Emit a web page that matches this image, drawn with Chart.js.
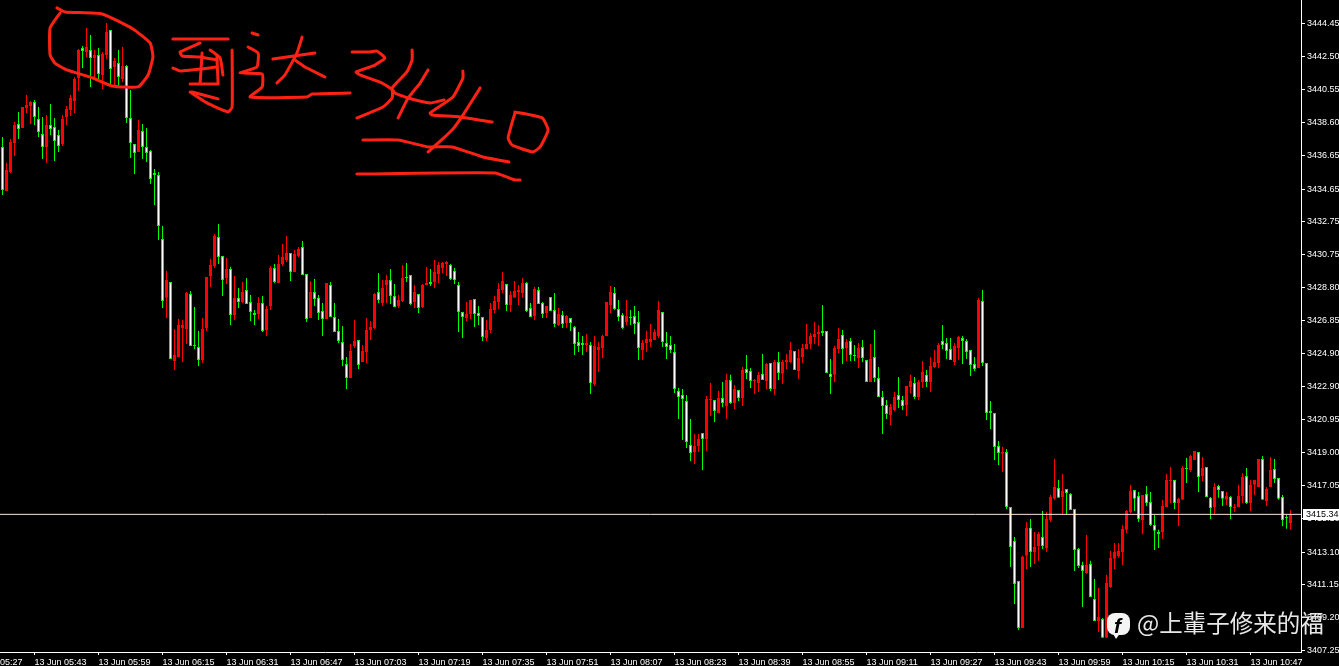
<!DOCTYPE html>
<html lang="zh">
<head>
    <meta charset="UTF-8">
    <title>XAUUSD M1</title>
    <script src="https://cdn.jsdelivr.net/npm/chart.js"></script>
    <style>
        html, body {
            margin: 0;
            background-color: #000000;
            overflow: hidden;
        }
        canvas {
            display: block;
        }
    </style>
</head>
<body>
    <canvas id="priceChart" width="1339" height="666"></canvas>
    <script>
        // one bar per minute, index 0 = 05:35
        const timeLabels = ['13 Jun 05:27', '13 Jun 05:43', '13 Jun 05:59', '13 Jun 06:15', '13 Jun 06:31', '13 Jun 06:47', '13 Jun 07:03', '13 Jun 07:19', '13 Jun 07:35', '13 Jun 07:51', '13 Jun 08:07', '13 Jun 08:23', '13 Jun 08:39', '13 Jun 08:55', '13 Jun 09:11', '13 Jun 09:27', '13 Jun 09:43', '13 Jun 09:59', '13 Jun 10:15', '13 Jun 10:31', '13 Jun 10:47'];
        const timeTickBars = [-8, 8, 24, 40, 56, 72, 88, 104, 120, 136, 152, 168, 184, 200, 216, 232, 248, 264, 280, 296, 312];
        const priceLabels = ['3444.45', '3442.50', '3440.55', '3438.60', '3436.65', '3434.65', '3432.75', '3430.75', '3428.80', '3426.85', '3424.90', '3422.90', '3420.95', '3419.00', '3417.05', '3415.10', '3413.10', '3411.15', '3409.20', '3407.25'];
        const currentPrice = 3415.34;

        const opens = [
            3437.14, 3434.53, 3435.66, 3437.38, 3438.51, 3438.27, 3439.46, 3439.58, 3439.82, 3438.81,
            3437.92, 3437.14, 3438.45, 3438.33, 3437.86, 3437.32, 3438.93, 3439.34, 3439.88, 3441.24,
            3443.02, 3442.78, 3442.90, 3442.43, 3442.61, 3441.42, 3442.61, 3444.09, 3441.89, 3442.13,
            3441.18, 3441.95, 3438.87, 3437.32, 3436.85, 3438.09, 3437.14, 3436.91, 3435.60, 3435.48,
            3431.69, 3428.19, 3429.13, 3424.44, 3424.68, 3426.40, 3426.34, 3428.42, 3425.39, 3425.27,
            3424.50, 3426.40, 3429.49, 3430.08, 3431.81, 3430.68, 3429.37, 3429.91, 3427.17, 3428.19,
            3427.95, 3428.66, 3427.95, 3427.29, 3427.23, 3427.89, 3426.28, 3427.71, 3429.96, 3429.07,
            3430.20, 3430.44, 3430.85, 3429.73, 3430.68, 3431.21, 3429.61, 3427.00, 3428.54, 3428.19,
            3427.41, 3426.94, 3428.96, 3427.06, 3426.22, 3425.57, 3424.27, 3423.44, 3425.33, 3425.69,
            3424.38, 3424.98, 3426.28, 3426.40, 3428.54, 3427.89, 3428.96, 3429.25, 3428.30, 3427.71,
            3428.01, 3429.43, 3429.55, 3427.95, 3428.42, 3427.65, 3428.96, 3429.13, 3429.13, 3429.61,
            3429.96, 3430.20, 3430.14, 3429.79, 3428.96, 3427.35, 3427.00, 3427.23, 3428.13, 3427.29,
            3427.06, 3425.81, 3426.28, 3427.47, 3427.95, 3428.66, 3429.01, 3427.77, 3428.19, 3428.54,
            3428.48, 3429.07, 3427.59, 3427.12, 3428.66, 3427.89, 3427.29, 3428.24, 3427.47, 3426.58,
            3427.17, 3426.70, 3427.00, 3426.46, 3425.57, 3425.51, 3425.39, 3425.39, 3423.08, 3425.10,
            3425.22, 3425.93, 3427.77, 3428.48, 3427.53, 3427.17, 3426.76, 3427.06, 3427.12, 3426.76,
            3425.10, 3425.51, 3425.57, 3425.69, 3425.93, 3427.35, 3425.51, 3425.39, 3424.98, 3422.66,
            3422.43, 3422.07, 3419.46, 3419.04, 3419.40, 3420.17, 3419.82, 3422.13, 3422.13, 3421.36,
            3422.25, 3421.77, 3423.32, 3421.95, 3422.72, 3422.25, 3423.97, 3423.85, 3423.26, 3423.14,
            3423.68, 3423.26, 3424.33, 3422.78, 3424.38, 3423.68, 3424.38, 3424.38, 3425.04, 3423.85,
            3424.68, 3425.16, 3425.45, 3425.87, 3426.05, 3426.22, 3426.22, 3423.68, 3423.62, 3425.16,
            3426.00, 3425.22, 3425.63, 3424.80, 3424.62, 3425.27, 3424.50, 3423.20, 3424.68, 3423.44,
            3422.31, 3421.83, 3421.24, 3421.54, 3422.43, 3422.13, 3421.83, 3422.90, 3423.14, 3422.31,
            3423.20, 3423.62, 3423.20, 3424.09, 3424.33, 3425.63, 3425.51, 3425.16, 3424.38, 3425.22,
            3425.81, 3425.63, 3425.10, 3424.27, 3424.03, 3428.01, 3424.33, 3421.48, 3421.36, 3419.40,
            3418.93, 3419.04, 3415.78, 3413.76, 3411.39, 3408.60, 3412.88, 3414.54, 3413.11, 3413.46,
            3414.00, 3413.35, 3415.01, 3416.26, 3416.91, 3416.37, 3416.85, 3416.55, 3415.66, 3413.29,
            3412.34, 3411.86, 3412.40, 3410.32, 3409.01, 3409.13, 3408.01, 3411.03, 3412.70, 3412.87,
            3413.11, 3414.42, 3415.48, 3416.79, 3416.43, 3415.01, 3416.55, 3416.08, 3414.71, 3414.30,
            3414.30, 3415.78, 3417.32, 3417.38, 3416.02, 3416.20, 3418.09, 3417.98, 3418.57, 3419.04,
            3417.62, 3418.15, 3416.32, 3415.78, 3417.03, 3416.73, 3416.20, 3416.37, 3415.72, 3415.78,
            3416.43, 3417.62, 3416.02, 3417.09, 3416.97, 3418.63, 3416.14, 3416.97, 3418.03, 3417.50,
            3416.37, 3415.19, 3414.83
        ];
        const highs = [
            3437.74, 3436.19, 3437.62, 3438.63, 3439.22, 3439.52, 3440.23, 3439.88, 3439.94, 3439.52,
            3438.93, 3439.04, 3439.70, 3438.87, 3438.15, 3439.04, 3439.58, 3440.23, 3441.30, 3442.96,
            3443.14, 3444.21, 3443.79, 3442.90, 3443.02, 3442.78, 3444.50, 3444.09, 3442.43, 3442.90,
            3443.08, 3442.01, 3440.53, 3437.32, 3438.75, 3438.51, 3438.27, 3436.97, 3435.84, 3435.66,
            3432.46, 3429.79, 3429.13, 3426.34, 3426.94, 3426.88, 3428.54, 3428.60, 3427.65, 3426.22,
            3427.00, 3429.43, 3430.50, 3431.98, 3432.58, 3430.68, 3430.56, 3430.03, 3429.49, 3428.78,
            3429.13, 3429.37, 3428.36, 3427.47, 3428.24, 3428.30, 3427.71, 3430.08, 3430.20, 3430.74,
            3431.39, 3431.87, 3430.85, 3431.03, 3431.21, 3431.57, 3429.61, 3429.19, 3429.31, 3428.36,
            3427.89, 3429.07, 3429.13, 3427.89, 3426.94, 3426.52, 3424.68, 3425.45, 3426.88, 3425.69,
            3425.39, 3427.00, 3426.82, 3428.48, 3429.67, 3429.25, 3429.55, 3429.91, 3429.01, 3428.36,
            3430.14, 3430.26, 3429.55, 3428.96, 3428.42, 3429.01, 3430.03, 3429.91, 3430.44, 3430.32,
            3430.32, 3430.38, 3430.20, 3429.96, 3429.13, 3427.35, 3427.95, 3428.07, 3428.13, 3427.71,
            3427.06, 3426.88, 3427.89, 3428.30, 3429.07, 3429.73, 3429.01, 3428.60, 3429.19, 3428.96,
            3429.37, 3429.13, 3427.89, 3428.84, 3428.84, 3427.95, 3427.71, 3428.24, 3428.48, 3427.59,
            3427.41, 3427.17, 3427.00, 3426.52, 3426.17, 3425.93, 3426.05, 3425.57, 3425.93, 3425.57,
            3425.99, 3427.95, 3428.90, 3428.84, 3428.07, 3427.29, 3428.07, 3427.47, 3427.71, 3427.41,
            3425.69, 3426.22, 3426.64, 3426.34, 3428.01, 3427.35, 3426.17, 3425.93, 3425.45, 3422.84,
            3422.78, 3422.43, 3421.00, 3420.11, 3420.11, 3420.17, 3422.37, 3423.14, 3422.13, 3422.66,
            3423.20, 3423.68, 3423.62, 3423.02, 3422.72, 3424.09, 3424.80, 3424.03, 3423.38, 3423.79,
            3424.86, 3424.33, 3424.33, 3424.50, 3424.98, 3424.50, 3424.86, 3425.57, 3425.04, 3425.16,
            3425.45, 3426.64, 3426.11, 3426.76, 3426.58, 3427.77, 3426.22, 3424.56, 3425.33, 3426.40,
            3426.28, 3425.75, 3425.81, 3425.39, 3425.51, 3425.69, 3424.50, 3425.45, 3426.28, 3424.09,
            3422.66, 3422.13, 3421.89, 3422.60, 3423.50, 3422.37, 3422.96, 3423.62, 3423.50, 3423.32,
            3424.44, 3423.91, 3424.68, 3425.10, 3425.51, 3426.58, 3425.81, 3425.81, 3425.51, 3425.93,
            3425.93, 3425.75, 3425.10, 3424.68, 3428.19, 3428.66, 3424.33, 3422.07, 3421.36, 3419.70,
            3419.34, 3419.22, 3415.78, 3414.00, 3411.39, 3412.88, 3414.89, 3415.07, 3414.30, 3414.30,
            3415.54, 3415.48, 3416.49, 3418.63, 3417.38, 3417.74, 3416.85, 3416.61, 3415.66, 3413.35,
            3412.52, 3414.12, 3412.58, 3411.51, 3410.97, 3409.19, 3411.74, 3413.17, 3413.64, 3413.64,
            3414.71, 3415.60, 3417.09, 3416.79, 3416.67, 3416.49, 3417.03, 3416.67, 3415.30, 3414.42,
            3416.20, 3417.74, 3418.15, 3417.38, 3416.32, 3418.21, 3418.69, 3418.87, 3419.10, 3419.04,
            3418.75, 3418.15, 3416.37, 3417.20, 3417.09, 3416.73, 3416.67, 3416.43, 3415.96, 3417.09,
            3417.80, 3418.09, 3417.38, 3417.38, 3418.63, 3418.81, 3416.97, 3418.75, 3418.63, 3417.50,
            3416.49, 3415.30, 3415.60
        ];
        const lows = [
            3434.30, 3434.53, 3435.60, 3436.61, 3437.62, 3438.27, 3439.16, 3438.51, 3438.45, 3437.74,
            3436.43, 3436.19, 3437.86, 3436.31, 3436.85, 3437.20, 3438.45, 3438.99, 3439.16, 3440.47,
            3441.83, 3442.49, 3440.71, 3441.12, 3441.00, 3440.59, 3442.37, 3440.83, 3440.77, 3440.71,
            3441.00, 3438.57, 3436.49, 3435.54, 3436.85, 3436.43, 3436.25, 3434.95, 3433.70, 3431.63,
            3427.59, 3427.00, 3424.56, 3423.91, 3424.68, 3424.38, 3425.45, 3425.33, 3425.16, 3424.14,
            3424.32, 3426.22, 3428.84, 3429.96, 3430.20, 3428.30, 3429.01, 3426.58, 3426.88, 3427.59,
            3427.89, 3427.83, 3426.82, 3426.58, 3426.94, 3426.16, 3425.93, 3427.47, 3429.07, 3429.07,
            3430.08, 3430.32, 3429.19, 3429.73, 3430.62, 3429.55, 3426.76, 3427.00, 3427.71, 3426.88,
            3425.93, 3426.94, 3427.06, 3426.17, 3425.51, 3424.14, 3422.78, 3423.44, 3425.22, 3423.97,
            3424.38, 3424.32, 3425.69, 3426.34, 3427.89, 3427.71, 3427.89, 3427.83, 3427.65, 3427.59,
            3427.95, 3429.13, 3427.77, 3427.59, 3427.29, 3427.59, 3428.96, 3428.90, 3428.78, 3429.07,
            3429.67, 3429.49, 3429.25, 3429.01, 3426.17, 3425.81, 3426.82, 3426.94, 3426.46, 3426.58,
            3425.63, 3425.63, 3426.11, 3427.29, 3427.53, 3428.48, 3427.41, 3427.35, 3428.19, 3427.77,
            3428.19, 3427.35, 3427.06, 3426.88, 3427.83, 3427.00, 3427.00, 3427.41, 3426.46, 3426.52,
            3426.40, 3426.40, 3426.22, 3424.80, 3424.98, 3424.80, 3424.98, 3422.49, 3422.96, 3423.79,
            3424.62, 3425.93, 3427.29, 3427.47, 3426.82, 3426.34, 3426.58, 3426.58, 3426.05, 3424.50,
            3424.50, 3424.98, 3425.27, 3425.69, 3425.81, 3425.27, 3424.56, 3424.92, 3422.55, 3421.00,
            3419.76, 3419.28, 3418.51, 3418.33, 3419.04, 3417.98, 3419.10, 3421.18, 3420.82, 3421.36,
            3421.71, 3421.00, 3421.89, 3421.60, 3422.07, 3421.77, 3423.38, 3422.84, 3422.49, 3422.60,
            3423.32, 3422.78, 3422.66, 3422.43, 3423.32, 3423.08, 3423.97, 3424.33, 3423.91, 3423.38,
            3424.33, 3425.16, 3425.16, 3425.45, 3425.33, 3425.93, 3423.73, 3422.49, 3423.20, 3424.92,
            3424.27, 3424.44, 3424.44, 3424.44, 3424.03, 3424.38, 3423.20, 3423.20, 3423.20, 3422.31,
            3420.11, 3421.00, 3420.65, 3421.48, 3421.65, 3421.54, 3421.18, 3422.55, 3422.19, 3422.13,
            3422.84, 3422.90, 3422.60, 3424.03, 3424.03, 3425.16, 3424.56, 3424.50, 3424.21, 3424.50,
            3424.27, 3424.56, 3423.55, 3423.85, 3424.03, 3424.15, 3420.94, 3420.41, 3418.57, 3418.27,
            3417.86, 3415.66, 3412.22, 3410.02, 3408.48, 3408.60, 3412.10, 3412.22, 3412.40, 3412.58,
            3413.29, 3413.11, 3414.89, 3416.20, 3416.32, 3415.36, 3415.36, 3415.60, 3411.98, 3412.16,
            3409.84, 3411.80, 3410.44, 3409.01, 3408.36, 3408.01, 3408.01, 3410.97, 3412.10, 3412.76,
            3412.34, 3414.24, 3415.42, 3415.54, 3414.89, 3414.18, 3415.84, 3414.65, 3413.23, 3413.35,
            3413.88, 3415.78, 3416.02, 3415.66, 3414.65, 3416.20, 3417.20, 3417.86, 3418.57, 3416.67,
            3417.32, 3416.37, 3415.07, 3415.36, 3416.32, 3415.84, 3415.90, 3415.07, 3415.48, 3415.78,
            3416.02, 3415.96, 3415.54, 3416.49, 3416.97, 3416.20, 3415.84, 3416.97, 3417.20, 3416.20,
            3414.65, 3414.48, 3414.42
        ];
        const closes = [
            3434.59, 3435.78, 3437.44, 3438.45, 3438.21, 3439.52, 3439.64, 3439.82, 3438.93, 3438.03,
            3437.14, 3438.45, 3438.21, 3437.50, 3437.20, 3438.81, 3439.40, 3440.05, 3441.18, 3442.90,
            3442.84, 3443.08, 3442.43, 3442.61, 3441.48, 3442.67, 3443.97, 3441.77, 3442.25, 3441.30,
            3441.95, 3438.87, 3437.38, 3436.79, 3438.15, 3437.14, 3436.79, 3435.25, 3435.48, 3432.46,
            3428.01, 3429.25, 3424.56, 3424.80, 3426.58, 3426.58, 3428.48, 3425.33, 3425.33, 3424.50,
            3426.34, 3429.43, 3430.14, 3431.87, 3430.62, 3429.25, 3429.91, 3427.17, 3428.19, 3427.95,
            3428.54, 3427.83, 3427.35, 3427.17, 3427.89, 3426.22, 3427.53, 3429.96, 3429.13, 3430.20,
            3430.62, 3430.85, 3429.73, 3430.80, 3431.09, 3429.55, 3426.94, 3428.54, 3428.13, 3427.29,
            3426.94, 3429.07, 3427.06, 3426.17, 3425.63, 3424.50, 3423.44, 3425.04, 3425.63, 3424.21,
            3425.04, 3426.28, 3426.46, 3428.42, 3428.07, 3428.78, 3429.25, 3428.30, 3427.65, 3428.07,
            3429.37, 3429.37, 3427.83, 3428.54, 3427.59, 3428.96, 3429.07, 3429.01, 3429.73, 3430.14,
            3430.26, 3430.32, 3429.31, 3429.25, 3427.35, 3427.06, 3427.23, 3428.07, 3427.23, 3427.12,
            3425.87, 3426.28, 3427.53, 3428.01, 3428.72, 3429.19, 3427.77, 3428.36, 3428.60, 3428.66,
            3429.07, 3427.41, 3427.06, 3428.72, 3427.83, 3427.23, 3427.71, 3427.41, 3426.64, 3427.23,
            3426.64, 3427.12, 3426.70, 3425.45, 3425.33, 3425.39, 3425.51, 3423.14, 3425.33, 3425.27,
            3425.93, 3427.95, 3428.54, 3427.53, 3427.06, 3426.40, 3427.12, 3427.00, 3426.64, 3425.22,
            3425.51, 3425.75, 3425.75, 3426.17, 3427.47, 3425.57, 3425.27, 3425.10, 3422.78, 3422.31,
            3422.19, 3419.64, 3418.98, 3419.40, 3419.82, 3419.82, 3422.19, 3422.19, 3421.48, 3422.25,
            3421.95, 3423.32, 3421.95, 3422.78, 3422.25, 3423.91, 3423.73, 3423.26, 3423.32, 3423.62,
            3423.32, 3424.27, 3422.78, 3424.38, 3423.73, 3424.38, 3424.50, 3425.10, 3423.91, 3424.62,
            3425.22, 3425.45, 3425.93, 3426.05, 3426.17, 3426.11, 3423.73, 3423.50, 3425.22, 3425.75,
            3425.16, 3425.57, 3424.80, 3424.74, 3425.22, 3424.62, 3423.20, 3424.56, 3423.44, 3422.31,
            3421.77, 3421.30, 3421.71, 3422.31, 3422.13, 3421.77, 3422.96, 3423.26, 3422.31, 3423.20,
            3423.79, 3423.20, 3424.15, 3424.38, 3425.39, 3425.39, 3425.04, 3424.50, 3425.33, 3425.87,
            3425.63, 3424.98, 3424.21, 3423.97, 3428.07, 3424.33, 3421.36, 3421.36, 3419.34, 3418.98,
            3419.04, 3415.78, 3413.40, 3411.21, 3408.60, 3412.82, 3414.54, 3413.11, 3413.40, 3414.18,
            3413.46, 3415.07, 3416.37, 3416.97, 3416.32, 3416.73, 3416.61, 3415.60, 3413.23, 3412.28,
            3411.98, 3412.34, 3410.44, 3409.01, 3409.25, 3408.01, 3411.27, 3412.76, 3413.11, 3413.17,
            3414.47, 3415.54, 3416.73, 3416.26, 3415.07, 3416.49, 3416.02, 3414.71, 3414.36, 3414.18,
            3415.84, 3417.38, 3417.38, 3416.02, 3416.26, 3418.09, 3418.03, 3418.81, 3419.10, 3417.56,
            3418.09, 3416.37, 3415.72, 3416.97, 3416.79, 3416.26, 3416.43, 3415.78, 3415.78, 3416.43,
            3417.56, 3416.02, 3417.09, 3417.38, 3418.63, 3416.20, 3416.85, 3417.98, 3417.44, 3416.26,
            3415.01, 3415.13, 3415.36
        ];

        // red marker scribbles, as [bar index, price]
        const inkStrokes = [
            [[13.6, 3445.40], [15.6, 3445.16], [24.9, 3445.04], [32.6, 3444.15], [36.9, 3443.32], [37.6, 3442.49], [36.4, 3441.42], [33.9, 3440.71], [27.4, 3440.77], [22.6, 3441.24], [16.1, 3441.72], [13.1, 3442.13], [11.9, 3442.61], [11.9, 3444.21], [14.4, 3445.10]],
            [[42.6, 3443.56], [56.4, 3443.56]],
            [[49.4, 3443.32], [44.4, 3442.78], [44.9, 3442.55], [49.4, 3442.49], [53.6, 3442.31]],
            [[51.9, 3442.90], [54.4, 3442.43], [55.1, 3441.42]],
            [[42.6, 3441.83], [44.4, 3441.66], [53.6, 3441.89]],
            [[49.9, 3442.72], [49.4, 3440.94]],
            [[46.9, 3440.88], [53.9, 3440.88]],
            [[53.6, 3442.49], [53.9, 3440.94]],
            [[46.9, 3440.41], [51.1, 3439.76], [56.4, 3439.22], [57.4, 3439.52], [57.4, 3442.90]],
            [[47.4, 3440.41], [53.9, 3440.00]],
            [[62.4, 3443.91], [63.9, 3443.79]],
            [[61.4, 3443.08], [63.9, 3442.72], [63.6, 3441.89], [59.4, 3441.54], [64.9, 3441.48], [64.9, 3440.71], [61.9, 3440.11], [76.1, 3440.11], [77.4, 3440.29], [86.9, 3440.35]],
            [[74.9, 3443.67], [73.6, 3442.72], [70.6, 3441.42], [68.6, 3440.94]],
            [[67.6, 3442.37], [78.1, 3442.72]],
            [[73.1, 3442.31], [76.1, 3441.83], [80.6, 3441.30]],
            [[87.4, 3442.78], [91.4, 3442.78], [93.6, 3442.84], [95.6, 3442.43], [93.1, 3442.01], [88.4, 3441.60], [89.4, 3441.42], [94.9, 3440.94], [97.4, 3440.53], [97.4, 3440.05], [95.1, 3439.52], [88.6, 3438.87]],
            [[102.4, 3442.90], [102.4, 3442.31], [101.1, 3441.60], [97.4, 3440.65], [98.1, 3440.35], [101.4, 3440.05], [106.9, 3439.76], [110.4, 3439.94]],
            [[106.4, 3441.72], [104.4, 3440.94], [101.4, 3440.05], [98.9, 3438.87]],
            [[115.1, 3441.66], [115.1, 3441.24], [112.6, 3440.11], [106.9, 3439.16], [107.4, 3439.04], [114.4, 3438.93], [122.4, 3438.63]],
            [[119.4, 3440.65], [115.1, 3439.04], [112.4, 3438.15], [106.4, 3436.85]],
            [[128.1, 3439.22], [134.9, 3438.87], [136.4, 3438.15], [134.4, 3437.15], [132.6, 3436.85], [127.4, 3437.26], [126.4, 3437.68], [128.1, 3439.16]],
            [[90.1, 3437.56], [98.9, 3437.56], [106.4, 3437.15], [112.4, 3437.15], [120.1, 3436.55], [126.6, 3436.26]],
            [[88.6, 3435.54], [123.1, 3435.60], [128.1, 3435.19], [129.4, 3435.19]]
        ];

        const AXIS_FONT = { family: "'Liberation Sans', sans-serif", size: 9 };
        const X_MIN = -0.625;
        const X_MAX = 324.625;
        const isUp = i => closes[i] >= opens[i];

        const wickData = opens.map((_, i) => ({ x: i, y: [lows[i], highs[i]] }));
        const bodyData = opens.map((_, i) => ({ x: i, y: [opens[i], closes[i]] }));

        const inkDatasets = inkStrokes.map(stroke => ({
            type: 'line',
            data: stroke.map(p => ({ x: p[0], y: p[1] })),
            borderColor: '#ff2214',
            borderWidth: 3,
            tension: 0.15,
            borderCapStyle: 'round',
            borderJoinStyle: 'round',
            pointRadius: 0,
            order: 0
        }));

        // price tag and the watermark in the bottom right corner
        const overlayPlugin = {
            id: 'overlay',
            afterDraw(chart) {
                const ctx = chart.ctx;
                const tagY = Math.round(chart.scales.y.getPixelForValue(currentPrice));
                ctx.save();
                ctx.fillStyle = '#ffffff';
                ctx.fillRect(1303, tagY - 5, 36, 11);
                ctx.fillStyle = '#000000';
                ctx.font = "9px 'Liberation Sans'";
                ctx.textBaseline = 'middle';
                ctx.fillText(currentPrice.toFixed(2), 1306, tagY + 1);

                ctx.fillStyle = '#f4f4f4';
                ctx.beginPath();
                ctx.roundRect(1107, 613, 23, 22, 8);
                ctx.fill();
                ctx.beginPath();
                ctx.moveTo(1112, 632);
                ctx.lineTo(1116, 639);
                ctx.lineTo(1121, 632);
                ctx.fill();
                ctx.fillStyle = '#000000';
                ctx.font = "italic bold 21px 'Liberation Sans'";
                ctx.textBaseline = 'alphabetic';
                ctx.fillText('f', 1114, 633);

                ctx.fillStyle = '#e8e8e8';
                ctx.font = "23.5px 'Noto Sans CJK TC'";
                ctx.textBaseline = 'middle';
                ctx.fillText('@上輩子修来的福', 1137, 623);
                ctx.restore();
            }
        };

        new Chart(document.getElementById('priceChart').getContext('2d'), {
            type: 'bar',
            plugins: [overlayPlugin],
            data: {
                datasets: [
                    {
                        data: wickData,
                        barThickness: 1,
                        grouped: false,
                        inflateAmount: 0,
                        backgroundColor: opens.map((_, i) => isUp(i) ? '#ff0000' : '#00ff00'),
                        order: 3
                    },
                    {
                        data: bodyData,
                        barThickness: 3,
                        grouped: false,
                        inflateAmount: 0,
                        borderWidth: 1,
                        borderSkipped: false,
                        borderColor: opens.map((_, i) => isUp(i) ? '#ff0000' : '#00ff00'),
                        backgroundColor: opens.map((_, i) => isUp(i) ? '#ff0000' : '#ffffff'),
                        order: 2
                    },
                    {
                        type: 'line',
                        data: [{ x: X_MIN, y: currentPrice }, { x: X_MAX, y: currentPrice }],
                        borderColor: '#ffe6df',
                        borderWidth: 1,
                        pointRadius: 0,
                        order: 1
                    },
                    ...inkDatasets
                ]
            },
            options: {
                responsive: false,
                animation: false,
                layout: { padding: 0 },
                plugins: {
                    legend: { display: false },
                    tooltip: { enabled: false }
                },
                scales: {
                    x: {
                        type: 'linear',
                        offset: false,
                        min: X_MIN,
                        max: X_MAX,
                        afterBuildTicks: scale => {
                            scale.ticks = timeTickBars.map(v => ({ value: v }));
                        },
                        afterFit: scale => {
                            scale.height = 14;
                            scale.paddingLeft = 0;
                            scale.paddingRight = 0;
                        },
                        border: { display: true, color: '#ffffff' },
                        grid: { drawOnChartArea: false, color: '#ffffff', tickLength: 3, offset: false },
                        ticks: {
                            autoSkip: false,
                            maxRotation: 0,
                            minRotation: 0,
                            align: 'start',
                            padding: 2,
                            color: '#ffffff',
                            font: AXIS_FONT,
                            callback: (value, index) => timeLabels[index]
                        }
                    },
                    y: {
                        type: 'linear',
                        position: 'right',
                        min: 3407.17,
                        max: 3445.87,
                        afterBuildTicks: scale => {
                            scale.ticks = priceLabels.map(s => ({ value: parseFloat(s) }));
                        },
                        afterFit: scale => {
                            scale.width = 38;
                            scale.paddingTop = 0;
                            scale.paddingBottom = 0;
                        },
                        border: { display: true, color: '#ffffff' },
                        grid: { drawOnChartArea: false, color: '#ffffff', tickLength: 4 },
                        ticks: {
                            autoSkip: false,
                            padding: 2,
                            color: '#ffffff',
                            font: AXIS_FONT,
                            callback: (value, index) => priceLabels[index]
                        }
                    }
                }
            }
        });
    </script>
</body>
</html>
